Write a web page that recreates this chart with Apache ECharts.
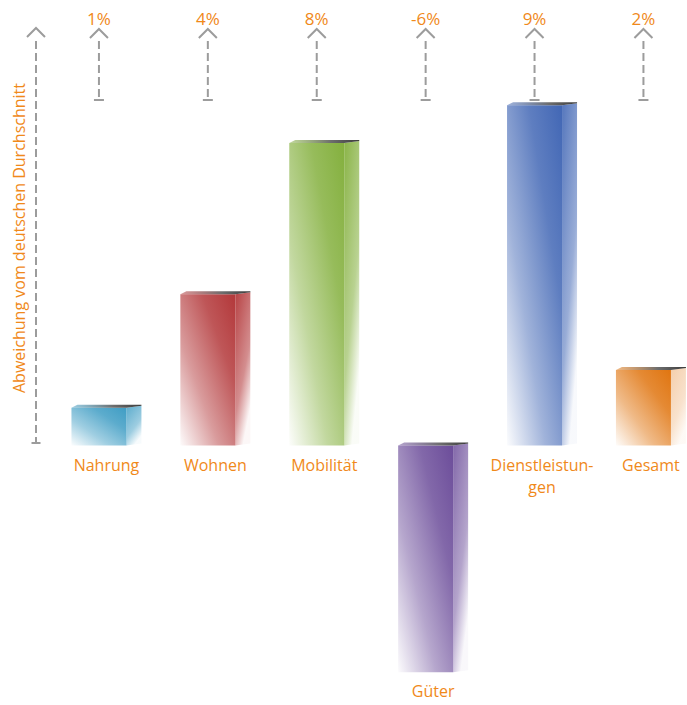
<!DOCTYPE html>
<html>
<head>
<meta charset="utf-8">
<title>Abweichung vom deutschen Durchschnitt</title>
<script src="https://cdn.jsdelivr.net/npm/echarts@6/dist/echarts.min.js"></script>
<style>
  html, body { margin: 0; padding: 0; background: #ffffff; }
  #chart { width: 687px; height: 705px; }
</style>
</head>
<body>
<div id="chart"></div>
<script>
// Categories and their deviation from the German average (percent)
const categories = ['Nahrung', 'Wohnen', 'Mobilität', 'Güter', 'Dienstleistun-\ngen', 'Gesamt'];
const deviations = [1, 4, 8, -6, 9, 2];
const deviationLabels = ['1%', '4%', '8%', '-6%', '9%', '2%'];
const axisTitle = 'Abweichung vom deutschen Durchschnitt';

// Styling
const barColors = ['#3f9dc4', '#b3383a', '#84b03e', '#6c4d9a', '#4267b5', '#e07510'];
const sideStrength = [0.85, 0.95, 0.95, 0.85, 0.9, 0.35];
const textColor = '#f0891a';
const guideColor = '#9c9c9c';
const fontFamily = '"Open Sans", "Noto Sans", sans-serif';

function hexToRgba(hex, a) {
  const n = parseInt(hex.slice(1), 16);
  return 'rgba(' + ((n >> 16) & 255) + ',' + ((n >> 8) & 255) + ',' + (n & 255) + ',' + a + ')';
}

const chart = echarts.init(document.getElementById('chart'), null, { renderer: 'svg' });

function renderBar(params, api) {
  const idx = api.value(0);
  const val = api.value(1);
  const base = api.coord([idx, 0]);
  const end = api.coord([idx, val]);
  const cx = base[0];
  const top = Math.min(base[1], end[1]);
  const bot = Math.max(base[1], end[1]);
  const hw = 27.5, depth = 15, rise = 2;
  const L = cx - hw, R = cx + hw;
  const color = barColors[idx];

  const children = [];

  // front face
  children.push({
    type: 'rect',
    shape: { x: L, y: top, width: R - L, height: bot - top },
    style: {
      fill: new echarts.graphic.LinearGradient(0, 1, 1, 0, [
        { offset: 0, color: hexToRgba(color, 0.02) },
        { offset: 0.35, color: hexToRgba(color, 0.5) },
        { offset: 0.7, color: hexToRgba(color, 0.85) },
        { offset: 1, color: hexToRgba(color, 1) }
      ])
    }
  });

  // side face
  const s = sideStrength[idx];
  children.push({
    type: 'polygon',
    shape: { points: [[R, top], [R + depth, top - rise], [R + depth, bot - rise], [R, bot]] },
    style: {
      fill: new echarts.graphic.LinearGradient(0, 0, 0.5, 1, [
        { offset: 0, color: hexToRgba(color, s) },
        { offset: 0.65, color: hexToRgba(color, s * 0.6) },
        { offset: 1, color: hexToRgba(color, 0.04) }
      ])
    }
  });

  // top edge
  children.push({
    type: 'polygon',
    shape: { points: [[L, top], [L + 6, top - 3], [R + depth, top - 3], [R + depth, top - rise], [R, top]] },
    style: {
      fill: new echarts.graphic.LinearGradient(0, 0, 1, 0, [
        { offset: 0, color: hexToRgba(color, 0.5) },
        { offset: 0.6, color: '#6d6d6d' },
        { offset: 1, color: '#3c3c3c' }
      ])
    }
  });

  // category label below the bar
  children.push({
    type: 'text',
    style: {
      x: cx + depth / 2, y: bot + 8,
      text: categories[idx],
      fill: textColor,
      font: '16px ' + fontFamily,
      align: 'center', verticalAlign: 'top',
      lineHeight: 22
    }
  });

  // value label and guide arrow above the plot
  children.push({
    type: 'text',
    style: {
      x: cx, y: 18,
      text: deviationLabels[idx],
      fill: textColor,
      font: '17px ' + fontFamily,
      align: 'center', verticalAlign: 'middle'
    }
  });
  children.push({
    type: 'line',
    shape: { x1: cx, y1: 41, x2: cx, y2: 100 },
    style: { stroke: guideColor, lineWidth: 2, lineDash: [8, 4] }
  });
  children.push({
    type: 'polyline',
    shape: { points: [[cx - 9, 38], [cx, 29], [cx + 9, 38]] },
    style: { stroke: guideColor, lineWidth: 2, fill: 'none' }
  });
  children.push({
    type: 'line',
    shape: { x1: cx - 5, y1: 100, x2: cx + 5, y2: 100 },
    style: { stroke: guideColor, lineWidth: 2 }
  });

  return { type: 'group', children: children };
}

chart.setOption({
  backgroundColor: '#ffffff',
  animation: false,
  grid: { left: 44.5, right: 0, top: 105.3, height: 567 },
  // category index axis: one unit per category, 109 px apart
  xAxis: { type: 'value', min: -0.5, max: 5.4, show: false },
  yAxis: { type: 'value', min: -6, max: 9, show: false },
  graphic: [
    // vertical guide arrow on the left
    {
      type: 'line',
      shape: { x1: 36, y1: 41, x2: 36, y2: 443 },
      style: { stroke: guideColor, lineWidth: 2, lineDash: [8, 4] }
    },
    {
      type: 'polyline',
      shape: { points: [[27, 37], [36, 28], [45, 37]] },
      style: { stroke: guideColor, lineWidth: 2, fill: 'none' }
    },
    {
      type: 'line',
      shape: { x1: 31.5, y1: 443, x2: 40.5, y2: 443 },
      style: { stroke: guideColor, lineWidth: 2 }
    },
    {
      type: 'text',
      x: 19, y: 238,
      rotation: Math.PI / 2,
      style: {
        text: axisTitle,
        fill: textColor,
        font: '16px ' + fontFamily,
        align: 'center', verticalAlign: 'middle'
      }
    }
  ],
  series: [{
    type: 'custom',
    renderItem: renderBar,
    encode: { x: 0, y: 1 },
    data: deviations.map((v, i) => [i, v]),
    clip: false
  }]
});
</script>
</body>
</html>
